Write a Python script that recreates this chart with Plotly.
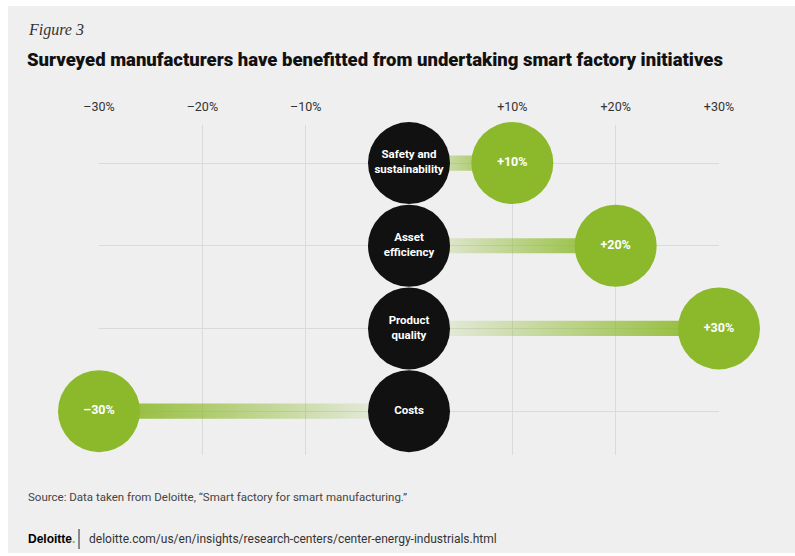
import plotly.graph_objects as go

categories = ["Safety and<br>sustainability", "Asset<br>efficiency", "Product<br>quality", "Costs"]
values = [10, 20, 30, -30]
value_labels = ["+10%", "+20%", "+30%", "–30%"]
tick_vals = [-30, -20, -10, 10, 20, 30]
tick_text = ["–30%", "–20%", "–10%", "+10%", "+20%", "+30%"]

GREEN = "#8CB92B"
GREEN_T = "rgba(140,185,43,0)"
BLACK = "#111111"
BG = "#EFEFEF"
NARROW = "Roboto, Liberation Sans Narrow, DejaVu Sans Condensed, sans-serif"

n = len(categories)
rows = [n - 1 - i for i in range(n)]
half = 0.092

fig = go.Figure()

# gradient connector bars
for v, r in zip(values, rows):
    cs = [[0, GREEN_T], [1, GREEN]] if v > 0 else [[0, GREEN], [1, GREEN_T]]
    fig.add_trace(go.Scatter(
        x=[0, v, v, 0, 0], y=[r - half, r - half, r + half, r + half, r - half],
        mode="lines", line=dict(width=0), fill="toself",
        fillgradient=dict(type="horizontal", colorscale=cs),
        hoverinfo="skip", showlegend=False))

# black category circles
fig.add_trace(go.Scatter(
    x=[0] * n, y=rows, mode="markers+text", text=[f"<b>{c}</b>" for c in categories],
    textposition="middle center",
    textfont=dict(family=NARROW, size=11.5, color="white"),
    marker=dict(size=82, color=BLACK, line=dict(width=0)),
    cliponaxis=False, showlegend=False, hoverinfo="skip"))

# green value circles
fig.add_trace(go.Scatter(
    x=values, y=rows, mode="markers+text", text=[f"<b>{t}</b>" for t in value_labels],
    textposition="middle center",
    textfont=dict(family=NARROW, size=12.5, color="white"),
    marker=dict(size=82, color=GREEN, line=dict(width=0)),
    cliponaxis=False, showlegend=False, hoverinfo="skip"))

def px_x(p):
    return (p - 99) / 620.0

def px_y(p):
    return (455 - p) / 330.0

shapes = [
    dict(type="rect", xref="paper", yref="paper", x0=px_x(8), x1=px_x(800),
         y0=px_y(553), y1=px_y(6), fillcolor=BG, line=dict(width=0), layer="below"),
    dict(type="line", xref="paper", yref="paper", x0=px_x(79), x1=px_x(79),
         y0=px_y(529), y1=px_y(549), line=dict(color="#222222", width=1)),
]

annotations = [
    dict(text="<i>Figure 3</i>", xref="paper", yref="paper", x=px_x(26), y=px_y(30),
         xanchor="left", yanchor="middle", showarrow=False,
         font=dict(family="Liberation Serif, DejaVu Serif, serif", size=16, color="#333333")),
    dict(text="Surveyed manufacturers have benefitted from undertaking smart factory initiatives",
         xref="paper", yref="paper", x=px_x(25), y=px_y(60),
         xanchor="left", yanchor="middle", showarrow=False,
         font=dict(family=NARROW, size=18.5, color="#111111", weight=900)),
    dict(text="Source: Data taken from Deloitte, “Smart factory for smart manufacturing.”",
         xref="paper", yref="paper", x=px_x(26), y=px_y(497),
         xanchor="left", yanchor="middle", showarrow=False,
         font=dict(family=NARROW, size=11.5, color="#444444")),
    dict(text="<b>Deloitte</b><b><span style='color:#86BC25'>.</span></b>",
         xref="paper", yref="paper", x=px_x(26), y=px_y(539),
         xanchor="left", yanchor="middle", showarrow=False,
         font=dict(family="Liberation Sans, Arial, sans-serif", size=12, color="#000000")),
    dict(text="deloitte.com/us/en/insights/research-centers/center-energy-industrials.html",
         xref="paper", yref="paper", x=px_x(87), y=px_y(539),
         xanchor="left", yanchor="middle", showarrow=False,
         font=dict(family=NARROW, size=12, color="#333333")),
]

fig.update_layout(
    width=795, height=556,
    margin=dict(l=99, r=76, t=125, b=101),
    paper_bgcolor="white", plot_bgcolor="rgba(0,0,0,0)",
    shapes=shapes, annotations=annotations,
    xaxis=dict(range=[-30, 30], side="top", tickvals=tick_vals, ticktext=tick_text,
               showgrid=True, gridcolor="#DADADA", gridwidth=1, zeroline=False,
               showline=False, ticks="outside", ticklen=8, tickcolor="rgba(0,0,0,0)",
               tickfont=dict(family=NARROW, size=12.5, color="#333333"), fixedrange=True),
    yaxis=dict(range=[-0.53, 3.46], tickvals=rows, showticklabels=False,
               showgrid=True, gridcolor="#DADADA", gridwidth=1, zeroline=False,
               showline=False, fixedrange=True),
)

fig.write_html("out.html")
